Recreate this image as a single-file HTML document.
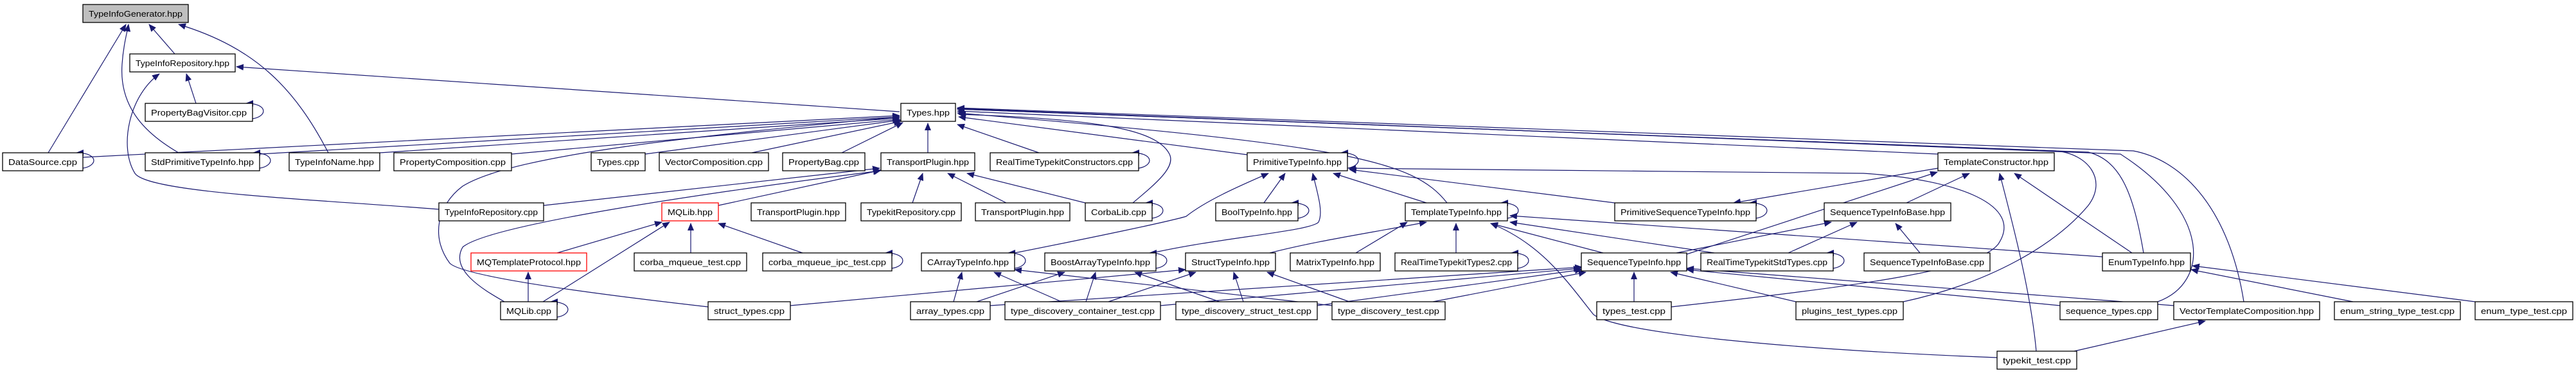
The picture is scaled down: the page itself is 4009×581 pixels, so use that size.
<!DOCTYPE html>
<html><head><meta charset="utf-8"><style>
html,body{margin:0;padding:0;background:#fff;}
svg{display:block;}
text{font-family:"Liberation Sans","DejaVu Sans",sans-serif;font-size:13px;fill:#000;}
.n{fill:#fff;stroke:#000;stroke-width:1.3;}
.e{fill:none;stroke:#191970;stroke-width:1.2;}
</style></head><body>
<svg width="4009" height="581" viewBox="0 0 4009 581" xmlns="http://www.w3.org/2000/svg">
<defs><marker id="a" markerWidth="12" markerHeight="10" refX="11" refY="5" orient="auto" markerUnits="userSpaceOnUse"><path d="M0,0 L12,5 L0,10 z" fill="#191970"/></marker></defs>
<g class="e" marker-end="url(#a)">
<path d="M75 238 L196 38"/>
<path d="M278 238 C230 210 185 170 190 100 C192 70 198 50 200 38"/>
<path d="M272 84 L232 38"/>
<path d="M511 238 C460 140 400 75 278 38"/>
<path d="M683 326 C480 310 230 300 210 270 C185 230 200 150 248 115"/>
<path d="M305 161 L290 115"/>
<path d="M1400 174 L368 104"/>
<path d="M129 245 L1400 180"/>
<path d="M404 240 L1400 182"/>
<path d="M591 238 L1400 184"/>
<path d="M796 240 L1400 186"/>
<path d="M1004 240 L1402 187"/>
<path d="M1170 238 L1402 189"/>
<path d="M1310 238 L1405 191"/>
<path d="M1444 238 L1444 192"/>
<path d="M1617 238 L1490 194"/>
<path d="M1941 241 L1492 182"/>
<path d="M1763 316 C1800 285 1830 260 1820 240 C1800 200 1700 185 1492 178"/>
<path d="M1102 478 C900 455 720 430 700 410 C670 370 680 320 720 290 C800 240 1100 210 1400 182"/>
<path d="M785 470 C750 450 700 420 720 385 C760 350 1100 300 1370 266"/>
<path d="M846 320 L1369 262"/>
<path d="M1118 320 L1371 265"/>
<path d="M1420 316 L1436 270"/>
<path d="M1566 316 L1475 270"/>
<path d="M1689 316 L1505 270"/>
<path d="M867 394 L1030 346"/>
<path d="M845 470 L1042 346"/>
<path d="M1075 394 L1075 348"/>
<path d="M1249 394 L1118 348"/>
<path d="M822 470 L822 424"/>
<path d="M2252 316 C2200 250 2100 226 1490 176"/>
<path d="M3016 240 L1490 173"/>
<path d="M2962 470 C3100 440 3200 380 3250 320 C3280 280 3250 240 3200 235 L1490 170"/>
<path d="M3336 394 C3320 300 3300 250 3250 237 L1490 170"/>
<path d="M3358 470 C3440 440 3440 330 3300 240 L1490 169"/>
<path d="M3492 470 C3470 330 3400 250 3320 235 L1490 168"/>
<path d="M2601 478 C2900 445 3080 420 3110 380 C3150 320 3050 280 2900 270 L2099 262"/>
<path d="M3108 557 C2800 545 2520 520 2480 490 C2440 440 2400 380 2320 348"/>
<path d="M2110 394 L2190 346"/>
<path d="M2266 394 L2266 348"/>
<path d="M2495 394 L2320 348"/>
<path d="M2668 394 L2350 346"/>
<path d="M3272 400 L2350 336"/>
<path d="M1976 394 C2050 375 2120 365 2220 346"/>
<path d="M1967 316 L2000 270"/>
<path d="M1793 394 C1900 370 2040 360 2052 346 C2060 330 2050 300 2043 270"/>
<path d="M1579 394 C1700 370 1820 345 1846 337 C1880 310 1940 285 1974 270"/>
<path d="M2220 316 L2075 270"/>
<path d="M2513 316 L2100 264"/>
<path d="M3016 262 L2698 316"/>
<path d="M2625 396 L3015 268"/>
<path d="M2609 394 L2850 346"/>
<path d="M2783 394 L2890 346"/>
<path d="M2967 316 L3065 270"/>
<path d="M2988 394 L2950 348"/>
<path d="M3318 394 L3135 270"/>
<path d="M3169 547 C3160 450 3130 340 3112 270"/>
<path d="M3228 547 L3432 500"/>
<path d="M3662 470 L3410 420"/>
<path d="M3852 470 L3412 414"/>
<path d="M2543 470 L2543 424"/>
<path d="M2230 470 L2468 424"/>
<path d="M2050 476 L2462 420"/>
<path d="M1806 476 L2460 418"/>
<path d="M1541 476 L2462 416"/>
<path d="M2795 470 L2600 424"/>
<path d="M3206 476 L2625 420"/>
<path d="M3383 476 L2625 418"/>
<path d="M1484 470 L1497 424"/>
<path d="M1520 470 L1657 424"/>
<path d="M1652 470 L1547 424"/>
<path d="M1690 470 L1705 424"/>
<path d="M1725 470 L1861 424"/>
<path d="M1898 470 L1766 424"/>
<path d="M1935 470 L1920 424"/>
<path d="M2100 470 L1972 424"/>
<path d="M2073 476 L1579 420"/>
<path d="M1230 476 L1845 420"/>
<!-- self loops -->
<path d="M393 185 C417 181 417 161 383 161"/>
<path d="M129 262 C153 258 153 238 119 238"/>
<path d="M404 262 C428 258 428 238 394 238"/>
<path d="M1772 262 C1796 258 1796 238 1762 238"/>
<path d="M2097 262 C2121 258 2121 238 2087 238"/>
<path d="M1793 340 C1817 336 1817 316 1783 316"/>
<path d="M2020 340 C2044 336 2044 316 2010 316"/>
<path d="M2346 340 C2370 336 2370 316 2336 316"/>
<path d="M2733 340 C2757 336 2757 316 2723 316"/>
<path d="M1388 418 C1412 414 1412 394 1378 394"/>
<path d="M1579 418 C1603 414 1603 394 1569 394"/>
<path d="M1799 418 C1823 414 1823 394 1789 394"/>
<path d="M2362 418 C2386 414 2386 394 2352 394"/>
<path d="M2853 418 C2877 414 2877 394 2843 394"/>
<path d="M867 494 C891 490 891 470 857 470"/>
</g>
<g>
<rect x="129" y="7" width="164" height="28" style="fill:#bfbfbf;stroke:#000;stroke-width:1.3"/><text x="211" y="26" text-anchor="middle" textLength="146" lengthAdjust="spacingAndGlyphs">TypeInfoGenerator.hpp</text>
<rect class="n" x="202" y="84" width="164" height="28"/><text x="284" y="103" text-anchor="middle" textLength="146" lengthAdjust="spacingAndGlyphs">TypeInfoRepository.hpp</text>
<rect class="n" x="226" y="161" width="167" height="28"/><text x="309.5" y="180" text-anchor="middle" textLength="149" lengthAdjust="spacingAndGlyphs">PropertyBagVisitor.cpp</text>
<rect class="n" x="1402" y="161" width="85" height="28"/><text x="1444.5" y="180" text-anchor="middle" textLength="67" lengthAdjust="spacingAndGlyphs">Types.hpp</text>
<rect class="n" x="4" y="238" width="125" height="28"/><text x="66.5" y="257" text-anchor="middle" textLength="107" lengthAdjust="spacingAndGlyphs">DataSource.cpp</text>
<rect class="n" x="226" y="238" width="178" height="28"/><text x="315" y="257" text-anchor="middle" textLength="160" lengthAdjust="spacingAndGlyphs">StdPrimitiveTypeInfo.hpp</text>
<rect class="n" x="450" y="238" width="141" height="28"/><text x="520.5" y="257" text-anchor="middle" textLength="123" lengthAdjust="spacingAndGlyphs">TypeInfoName.hpp</text>
<rect class="n" x="613" y="238" width="183" height="28"/><text x="704.5" y="257" text-anchor="middle" textLength="165" lengthAdjust="spacingAndGlyphs">PropertyComposition.cpp</text>
<rect class="n" x="920" y="238" width="84" height="28"/><text x="962" y="257" text-anchor="middle" textLength="66" lengthAdjust="spacingAndGlyphs">Types.cpp</text>
<rect class="n" x="1026" y="238" width="170" height="28"/><text x="1111" y="257" text-anchor="middle" textLength="152" lengthAdjust="spacingAndGlyphs">VectorComposition.cpp</text>
<rect class="n" x="1218" y="238" width="128" height="28"/><text x="1282" y="257" text-anchor="middle" textLength="110" lengthAdjust="spacingAndGlyphs">PropertyBag.cpp</text>
<rect class="n" x="1371" y="238" width="146" height="28"/><text x="1444" y="257" text-anchor="middle" textLength="128" lengthAdjust="spacingAndGlyphs">TransportPlugin.hpp</text>
<rect class="n" x="1541" y="238" width="231" height="28"/><text x="1656.5" y="257" text-anchor="middle" textLength="213" lengthAdjust="spacingAndGlyphs">RealTimeTypekitConstructors.cpp</text>
<rect class="n" x="1941" y="238" width="156" height="28"/><text x="2019" y="257" text-anchor="middle" textLength="138" lengthAdjust="spacingAndGlyphs">PrimitiveTypeInfo.hpp</text>
<rect class="n" x="3016" y="238" width="181" height="28"/><text x="3106.5" y="257" text-anchor="middle" textLength="163" lengthAdjust="spacingAndGlyphs">TemplateConstructor.hpp</text>
<rect class="n" x="683" y="316" width="163" height="28"/><text x="764.5" y="335" text-anchor="middle" textLength="145" lengthAdjust="spacingAndGlyphs">TypeInfoRepository.cpp</text>
<rect x="1030" y="316" width="88" height="28" style="fill:#fff;stroke:#ff0000;stroke-width:1.3"/><text x="1074" y="335" text-anchor="middle" textLength="70" lengthAdjust="spacingAndGlyphs">MQLib.hpp</text>
<rect class="n" x="1169" y="316" width="147" height="28"/><text x="1242.5" y="335" text-anchor="middle" textLength="129" lengthAdjust="spacingAndGlyphs">TransportPlugin.hpp</text>
<rect class="n" x="1340" y="316" width="156" height="28"/><text x="1418" y="335" text-anchor="middle" textLength="138" lengthAdjust="spacingAndGlyphs">TypekitRepository.cpp</text>
<rect class="n" x="1518" y="316" width="147" height="28"/><text x="1591.5" y="335" text-anchor="middle" textLength="129" lengthAdjust="spacingAndGlyphs">TransportPlugin.hpp</text>
<rect class="n" x="1689" y="316" width="104" height="28"/><text x="1741" y="335" text-anchor="middle" textLength="86" lengthAdjust="spacingAndGlyphs">CorbaLib.cpp</text>
<rect class="n" x="1892" y="316" width="128" height="28"/><text x="1956" y="335" text-anchor="middle" textLength="110" lengthAdjust="spacingAndGlyphs">BoolTypeInfo.hpp</text>
<rect class="n" x="2187" y="316" width="159" height="28"/><text x="2266.5" y="335" text-anchor="middle" textLength="141" lengthAdjust="spacingAndGlyphs">TemplateTypeInfo.hpp</text>
<rect class="n" x="2513" y="316" width="220" height="28"/><text x="2623" y="335" text-anchor="middle" textLength="202" lengthAdjust="spacingAndGlyphs">PrimitiveSequenceTypeInfo.hpp</text>
<rect class="n" x="2839" y="316" width="197" height="28"/><text x="2937.5" y="335" text-anchor="middle" textLength="179" lengthAdjust="spacingAndGlyphs">SequenceTypeInfoBase.hpp</text>
<rect x="733" y="394" width="180" height="28" style="fill:#fff;stroke:#ff0000;stroke-width:1.3"/><text x="823" y="413" text-anchor="middle" textLength="162" lengthAdjust="spacingAndGlyphs">MQTemplateProtocol.hpp</text>
<rect class="n" x="987" y="394" width="175" height="28"/><text x="1074.5" y="413" text-anchor="middle" textLength="157" lengthAdjust="spacingAndGlyphs">corba_mqueue_test.cpp</text>
<rect class="n" x="1187" y="394" width="201" height="28"/><text x="1287.5" y="413" text-anchor="middle" textLength="183" lengthAdjust="spacingAndGlyphs">corba_mqueue_ipc_test.cpp</text>
<rect class="n" x="1434" y="394" width="145" height="28"/><text x="1506.5" y="413" text-anchor="middle" textLength="127" lengthAdjust="spacingAndGlyphs">CArrayTypeInfo.hpp</text>
<rect class="n" x="1626" y="394" width="173" height="28"/><text x="1712.5" y="413" text-anchor="middle" textLength="155" lengthAdjust="spacingAndGlyphs">BoostArrayTypeInfo.hpp</text>
<rect class="n" x="1845" y="394" width="140" height="28"/><text x="1915" y="413" text-anchor="middle" textLength="122" lengthAdjust="spacingAndGlyphs">StructTypeInfo.hpp</text>
<rect class="n" x="2008" y="394" width="140" height="28"/><text x="2078" y="413" text-anchor="middle" textLength="122" lengthAdjust="spacingAndGlyphs">MatrixTypeInfo.hpp</text>
<rect class="n" x="2171" y="394" width="191" height="28"/><text x="2266.5" y="413" text-anchor="middle" textLength="173" lengthAdjust="spacingAndGlyphs">RealTimeTypekitTypes2.cpp</text>
<rect class="n" x="2461" y="394" width="164" height="28"/><text x="2543" y="413" text-anchor="middle" textLength="146" lengthAdjust="spacingAndGlyphs">SequenceTypeInfo.hpp</text>
<rect class="n" x="2647" y="394" width="206" height="28"/><text x="2750" y="413" text-anchor="middle" textLength="188" lengthAdjust="spacingAndGlyphs">RealTimeTypekitStdTypes.cpp</text>
<rect class="n" x="2901" y="394" width="196" height="28"/><text x="2999" y="413" text-anchor="middle" textLength="178" lengthAdjust="spacingAndGlyphs">SequenceTypeInfoBase.cpp</text>
<rect class="n" x="3272" y="394" width="137" height="28"/><text x="3340.5" y="413" text-anchor="middle" textLength="119" lengthAdjust="spacingAndGlyphs">EnumTypeInfo.hpp</text>
<rect class="n" x="779" y="470" width="88" height="28"/><text x="823" y="489" text-anchor="middle" textLength="70" lengthAdjust="spacingAndGlyphs">MQLib.cpp</text>
<rect class="n" x="1102" y="470" width="128" height="28"/><text x="1166" y="489" text-anchor="middle" textLength="110" lengthAdjust="spacingAndGlyphs">struct_types.cpp</text>
<rect class="n" x="1417" y="470" width="124" height="28"/><text x="1479" y="489" text-anchor="middle" textLength="106" lengthAdjust="spacingAndGlyphs">array_types.cpp</text>
<rect class="n" x="1564" y="470" width="242" height="28"/><text x="1685" y="489" text-anchor="middle" textLength="224" lengthAdjust="spacingAndGlyphs">type_discovery_container_test.cpp</text>
<rect class="n" x="1830" y="470" width="220" height="28"/><text x="1940" y="489" text-anchor="middle" textLength="202" lengthAdjust="spacingAndGlyphs">type_discovery_struct_test.cpp</text>
<rect class="n" x="2073" y="470" width="176" height="28"/><text x="2161" y="489" text-anchor="middle" textLength="158" lengthAdjust="spacingAndGlyphs">type_discovery_test.cpp</text>
<rect class="n" x="2485" y="470" width="116" height="28"/><text x="2543" y="489" text-anchor="middle" textLength="98" lengthAdjust="spacingAndGlyphs">types_test.cpp</text>
<rect class="n" x="2795" y="470" width="167" height="28"/><text x="2878.5" y="489" text-anchor="middle" textLength="149" lengthAdjust="spacingAndGlyphs">plugins_test_types.cpp</text>
<rect class="n" x="3206" y="470" width="152" height="28"/><text x="3282" y="489" text-anchor="middle" textLength="134" lengthAdjust="spacingAndGlyphs">sequence_types.cpp</text>
<rect class="n" x="3383" y="470" width="227" height="28"/><text x="3496.5" y="489" text-anchor="middle" textLength="209" lengthAdjust="spacingAndGlyphs">VectorTemplateComposition.hpp</text>
<rect class="n" x="3633" y="470" width="196" height="28"/><text x="3731" y="489" text-anchor="middle" textLength="178" lengthAdjust="spacingAndGlyphs">enum_string_type_test.cpp</text>
<rect class="n" x="3852" y="470" width="152" height="28"/><text x="3928" y="489" text-anchor="middle" textLength="134" lengthAdjust="spacingAndGlyphs">enum_type_test.cpp</text>
<rect class="n" x="3108" y="547" width="124" height="28"/><text x="3170" y="566" text-anchor="middle" textLength="106" lengthAdjust="spacingAndGlyphs">typekit_test.cpp</text>
</g>
</svg>
</body></html>
